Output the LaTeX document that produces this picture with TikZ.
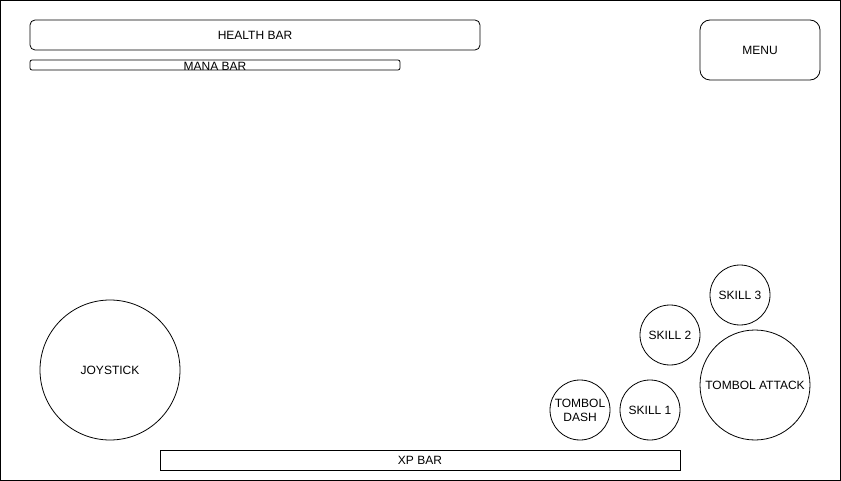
\documentclass[tikz,border=0pt]{standalone}
\usepackage{fontspec}
\setmainfont{Liberation Sans}

\begin{document}
\begin{tikzpicture}[x=1pt,y=-1pt,line width=0.8pt,
    every node/.style={font=\fontsize{12}{14}\selectfont,inner sep=0pt,outer sep=0pt},
    bar node/.style={draw,rectangle,rounded corners=#1},
    bar node/.default=0pt,
    round node/.style={draw,circle,minimum size=#1,align=center},
    round node/.default=60pt]
    \useasboundingbox (0,0) rectangle (841,481);
    \draw (0.5,0.5) rectangle (840.5,480.5);

    % top of the screen
    \node[bar node=5pt,minimum width=450pt,minimum height=30pt] (health) at (255,35) {HEALTH BAR};
    \node[bar node=2pt,minimum width=370pt,minimum height=10pt] (mana) at (215,65) {};
    \node (manalabel) at ([yshift=-1pt]mana.center) {MANA BAR};
    \node[bar node=10pt,minimum width=120pt,minimum height=60pt] (menu) at (760,50) {MENU};

    % controls
    \node[round node=140pt] (joystick) at (110,370) {JOYSTICK};
    \node[round node] (dash) at (580,410) {TOMBOL\\DASH};
    \node[round node] (skill1) at (650,410) {SKILL 1};
    \node[round node] (skill2) at (670,335) {SKILL 2};
    \node[round node] (skill3) at (740,295) {SKILL 3};
    \node[round node=110pt] (attack) at (755,385) {TOMBOL ATTACK};

    \node[bar node,minimum width=520pt,minimum height=20pt] (xp) at (420,460) {XP BAR};
\end{tikzpicture}
\end{document}
